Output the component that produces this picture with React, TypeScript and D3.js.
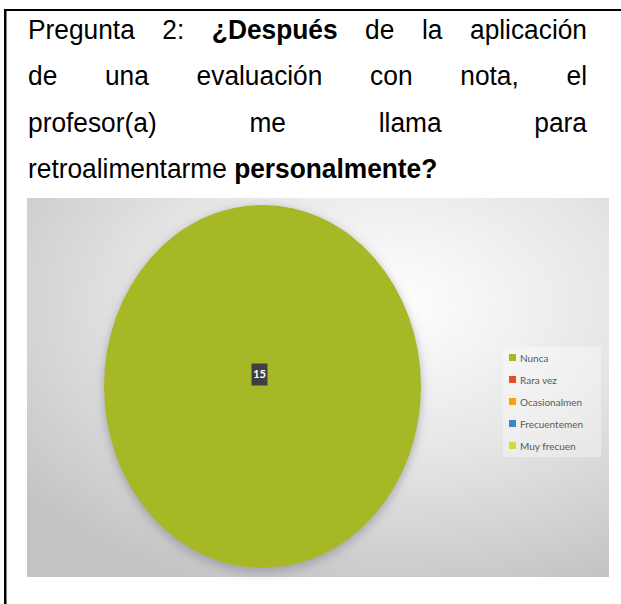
import React, { useEffect, useRef } from 'react'
import * as d3 from 'd3'

// question text, one entry per printed line (b = bold word)
const line1 = [{ t: 'Pregunta' }, { t: '2:' }, { t: '¿Después', b: true }, { t: 'de' }, { t: 'la' }, { t: 'aplicación' }]
const line2 = [{ t: 'de' }, { t: 'una' }, { t: 'evaluación' }, { t: 'con' }, { t: 'nota,' }, { t: 'el' }]
const line3 = [{ t: 'profesor(a)' }, { t: 'me' }, { t: 'llama' }, { t: 'para' }]
const line4 = [{ t: 'retroalimentarme' }, { t: 'personalmente?', b: true }]
const textLines = [line1, line2, line3, line4]
const justified = [true, true, true, false]

// chart data
const categories = ['Nunca', 'Rara vez', 'Ocasionalmen', 'Frecuentemen', 'Muy frecuen']
const values = [15, 0, 0, 0, 0]
const colors = ['#a6b828', '#e2502a', '#f7a308', '#3d86c1', '#d6d83e']

export default function App() {
  const textRef = useRef<SVGGElement>(null)

  const W = 621
  const H = 604

  // chart frame
  const chart = { x: 27, y: 198, w: 582, h: 379 }
  const cx = 262.5
  const cy = 386.5
  const rx = 158.5
  const ry = 181.5

  useEffect(() => {
    const g = d3.select(textRef.current)
    g.selectAll('*').remove()
    const left = 28, right = 587, sx = 0.94
    textLines.forEach((line, i) => {
      const row = g.append('g')
        .attr('transform', `translate(${left},${39 + i * 46.3}) scale(${sx},1)`)
      const nodes = line.map(w => row.append('text')
        .attr('font-weight', w.b ? 'bold' : 'normal')
        .text(w.t))
      const widths = nodes.map(n => (n.node() as SVGTextElement).getComputedTextLength())
      const total = d3.sum(widths)
      const gap = justified[i] ? ((right - left) / sx - total) / (line.length - 1) : 7.8
      let x = 0
      nodes.forEach((n, k) => { n.attr('x', x); x += widths[k] + gap })
    })
  }, [])

  const pie = d3.pie<number>().sort(null).value(d => d)
  const arcs = pie(values)
  const arc = d3.arc<d3.PieArcDatum<number>>().innerRadius(0).outerRadius(rx)

  const legendY = d3.scaleBand<string>().domain(categories).range([347, 457]).padding(0)

  return (
    <svg width={W} height={H} style={{ position: 'absolute', left: 0, top: 0 }}
      fontFamily="'Liberation Sans', Arial, sans-serif">
      <defs>
        <radialGradient id="bg" cx="0.62" cy="0.28" r="0.8">
          <stop offset="0" stopColor="#ffffff" />
          <stop offset="0.5" stopColor="#e6e6e6" />
          <stop offset="1" stopColor="#c4c4c4" />
        </radialGradient>
        <filter id="shadow" x="-20%" y="-20%" width="140%" height="140%">
          <feDropShadow dx="0" dy="3" stdDeviation="5" floodColor="#6a6a84" floodOpacity="0.5" />
        </filter>
      </defs>
      <rect width={W} height={H} fill="#fff" />
      {/* table cell border */}
      <rect x={4} y={9} width={2.5} height={H - 9} fill="#000" />
      <rect x={4} y={9} width={W - 4} height={2} fill="#000" />

      <g ref={textRef} fontSize={28} fill="#000" />

      <rect x={chart.x} y={chart.y} width={chart.w} height={chart.h} fill="url(#bg)" />

      <g transform={`translate(${cx},${cy}) scale(1,${ry / rx})`} filter="url(#shadow)">
        {arcs.map((a, i) => (
          <path key={categories[i]} d={arc(a) || ''} fill={colors[i]} />
        ))}
      </g>

      {arcs.filter(a => a.value > 0).map((a, i) => {
        const lx = cx - 3
        const ly = cy - 12
        return (
          <g key={'lab' + i} transform={`translate(${lx},${ly})`}>
            <rect x={-8} y={-11} width={16} height={22} fill="#404040" />
            <text textAnchor="middle" dy="0.35em" fill="#fff" fontSize={11} fontWeight="bold"
              fontFamily="Lato, 'Open Sans', sans-serif">{a.value}</text>
          </g>
        )
      })}

      <rect x={503} y={347} width={98} height={110} fill="#ffffff" fillOpacity={0.35} />
      {categories.map((c, i) => {
        const y = (legendY(c) || 0) + legendY.bandwidth() / 2
        return (
          <g key={c}>
            <rect x={509} y={y - 4} width={7} height={7} fill={colors[i]} />
            <text x={520} y={y} dy="0.35em" fontSize={10} fill="#595959"
              fontFamily="Lato, 'Open Sans', sans-serif">{c}</text>
          </g>
        )
      })}
    </svg>
  )
}
